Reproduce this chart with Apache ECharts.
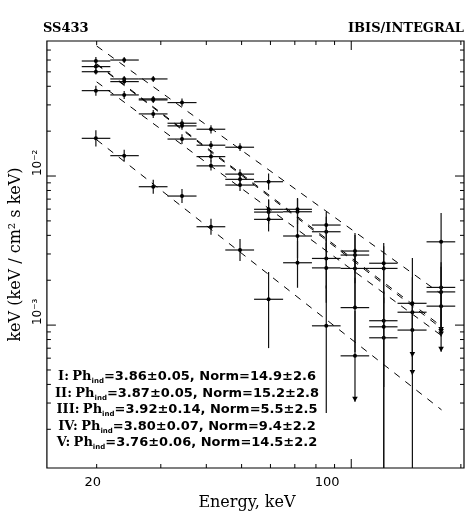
<!DOCTYPE html>
<html>
<head>
<meta charset="utf-8">
<script src="https://cdn.jsdelivr.net/npm/echarts@6/dist/echarts.min.js"></script>
<style>
  html, body { margin: 0; padding: 0; background: #fff; }
  #main { width: 473px; height: 532px; }
</style>
</head>
<body>
<div id="main"></div>
<script>
// energy bins, keV (centres and edges)
const energy = [19.9, 23.8, 28.6, 34.3, 41.2, 49.5, 59.3, 71.2, 85.4, 102.4, 122.8, 147.2, 176.5];
const binLow = [18.2, 21.8, 26.1, 31.3, 37.6, 45.1, 54.1, 65.0, 78.0, 93.5, 112, 134, 161];
const binHigh = [21.8, 26.1, 31.3, 37.6, 45.1, 54.1, 65.0, 78.0, 93.5, 112, 134, 161, 193];

// spectra: value, upper end, lower end of the error bar (0 = runs off the axis), arrow on lower end
const fluxI = [0.0542, 0.0448, 0.0329, 0.0226, 0.0161, 0.0103, 0.00598, 0.00576, 0.00423, 0.00295, 0.00240, 0.00122, 0.00179];
const fluxIHi = [0.0567, 0.0469, 0.0344, 0.0240, 0.0172, 0.0111, 0.00698, 0.00704, 0.00533, 0.00402, 0.00338, 0.00209, 0.00264];
const fluxILo = [0.0517, 0.0427, 0.0314, 0.0212, 0.0152, 0.0095, 0.00496, 0.00423, 0.0031, 0.00191, 0.0014, 0.000462, 0.00084];
const arrowI = [0, 0, 0, 0, 0, 0, 0, 0, 0, 0, 0, 1, 1];

const fluxII = [0.0501, 0.0430, 0.0324, 0.0217, 0.0135, 0.0095, 0.00573, 0.00396, 0.0028, 0.0024, 0.00107, 0.000926, 0.00167];
const fluxIIHi = [0.0525, 0.0450, 0.0339, 0.0230, 0.0146, 0.0104, 0.0069, 0.00507, 0.00382, 0.00327, 0.0017, 0.00172, 0.00246];
const fluxIILo = [0.0479, 0.0410, 0.0309, 0.0204, 0.0125, 0.00866, 0.00476, 0.00282, 0.00176, 0.0013, 0, 0, 0.00090];
const arrowII = [0, 0, 0, 0, 0, 0, 0, 0, 0, 0, 0, 0, 1];

const fluxIII = [0.0179, 0.0137, 0.00848, 0.00734, 0.00457, 0.00319, 0.00149, null, 0.000989, 0.000622, 0.000822, null, null];
const fluxIIIHi = [0.0203, 0.0150, 0.00944, 0.00818, 0.00517, 0.00378, 0.00227, null, 0.00184, 0.00125, 0.00153, null, null];
const fluxIIILo = [0.0158, 0.0125, 0.00761, 0.00659, 0.00404, 0.00269, 0.000701, null, 0.000257, 0.000306, 0, null, null];
const arrowIII = [0, 0, 0, 0, 0, 0, 0, 0, 0, 1, 0, 0, 0];

const fluxIV = [0.0374, 0.0350, 0.0261, 0.0177, 0.0117, 0.0087, 0.00512, 0.00262, 0.00242, 0.00131, 0.000974, null, 0.00134];
const fluxIVHi = [0.0404, 0.0372, 0.0277, 0.0191, 0.0127, 0.00955, 0.00617, 0.00368, 0.00357, 0.00208, 0.00167, null, 0.00183];
const fluxIVLo = [0.0346, 0.0329, 0.0245, 0.0164, 0.0109, 0.00793, 0.00425, 0.00178, 0.00141, 0.00066, 0.000385, null, 0.000662];
const arrowIV = [0, 0, 0, 0, 0, 0, 0, 0, 0, 0, 0, 0, 1];

const fluxV = [0.0591, 0.0600, 0.0448, 0.0311, 0.0206, 0.0156, 0.00916, 0.00598, 0.00469, 0.00314, 0.00260, 0.00140, 0.00362];
const fluxVHi = [0.0629, 0.0629, 0.0469, 0.0331, 0.0219, 0.0166, 0.0104, 0.00712, 0.00573, 0.00414, 0.00355, 0.00282, 0.00565];
const fluxVLo = [0.0556, 0.0573, 0.0427, 0.0293, 0.0193, 0.0147, 0.00809, 0.00476, 0.00366, 0.00223, 0.00163, 0.000612, 0.00087];
const arrowV = [0, 0, 0, 0, 0, 0, 0, 0, 0, 0, 0, 1, 1];

// power-law fits (dashed lines), end points
const fitEnergy = [20, 177];
const fitI = [0.0566, 0.00098];
const fitII = [0.0561, 0.00095];
const fitIII = [0.0175, 0.00027];
const fitIV = [0.0428, 0.00085];
const fitV = [0.0745, 0.00161];

// fit results text
const fitNames = ['I', 'II', 'III', 'IV', 'V'];
const fitIndex = ['3.86±0.05', '3.87±0.05', '3.92±0.14', '3.80±0.07', '3.76±0.06'];
const fitNorm = ['14.9±2.6', '15.2±2.8', '5.5±2.5', '9.4±2.2', '14.5±2.2'];

// ticks and labels
const xMajorTicks = [100];
const xMinorTicks = [20, 30, 40, 50, 60, 70, 80, 90, 200];
const yMajorTicks = [0.001, 0.01];
const yMinorTicks = [0.0002, 0.0003, 0.0004, 0.0005, 0.0006, 0.0007, 0.0008, 0.0009,
  0.002, 0.003, 0.004, 0.005, 0.006, 0.007, 0.008, 0.009,
  0.02, 0.03, 0.04, 0.05, 0.06, 0.07];
const xLabels = [20, 100];
const yLabels = [0.001, 0.01];

const X_MIN = 14.6, X_MAX = 204, Y_MIN = 1.1e-4, Y_MAX = 0.0805;

var chart = echarts.init(document.getElementById('main'));

function spectrum(name, flux, hi, lo, arrow) {
  const data = [];
  energy.forEach((e, i) => {
    if (flux[i] != null) data.push([e, flux[i], binLow[i], binHigh[i], hi[i], lo[i], arrow[i]]);
  });
  return {
    type: 'custom',
    name: name,
    data: data,
    clip: true,
    encode: { x: 0, y: 1 },
    renderItem: function (params, api) {
      const e = api.value(0), f = api.value(1);
      const c = api.coord([e, f]);
      const left = api.coord([api.value(2), f])[0];
      const right = api.coord([api.value(3), f])[0];
      const top = api.coord([e, api.value(4)])[1];
      const lo = api.value(5);
      const cs = params.coordSys;
      const bottom = lo > 0 ? api.coord([e, lo])[1] : cs.y + cs.height;
      const style = { stroke: '#111', lineWidth: 1.2 };
      const children = [
        { type: 'line', shape: { x1: left, y1: c[1], x2: right, y2: c[1] }, style: style },
        { type: 'line', shape: { x1: c[0], y1: top, x2: c[0], y2: bottom }, style: style },
        { type: 'circle', shape: { cx: c[0], cy: c[1], r: 2 }, style: { fill: '#000' } }
      ];
      if (api.value(6)) {
        children.push({
          type: 'polygon',
          shape: { points: [[c[0] - 2.8, bottom - 5], [c[0] + 2.8, bottom - 5], [c[0], bottom]] },
          style: { fill: '#000' }
        });
      }
      return { type: 'group', children: children };
    }
  };
}

function fitLine(name, fit) {
  return {
    type: 'line',
    name: name,
    data: [[fitEnergy[0], fit[0]], [fitEnergy[1], fit[1]]],
    showSymbol: false,
    silent: true,
    lineStyle: { color: '#000', width: 1, type: [7, 7] }
  };
}

// inward ticks on all four sides of the frame
function tickSeries(values, isX, len) {
  return {
    type: 'custom',
    silent: true,
    clip: false,
    data: values.map(v => isX ? [v, Y_MIN] : [X_MIN, v]),
    encode: { x: 0, y: 1 },
    renderItem: function (params, api) {
      const p = api.coord([api.value(0), api.value(1)]);
      const cs = params.coordSys;
      const style = { stroke: '#000', lineWidth: 1 };
      if (isX) {
        return { type: 'group', children: [
          { type: 'line', shape: { x1: p[0], y1: cs.y + cs.height, x2: p[0], y2: cs.y + cs.height - len }, style: style },
          { type: 'line', shape: { x1: p[0], y1: cs.y, x2: p[0], y2: cs.y + len }, style: style }
        ] };
      }
      return { type: 'group', children: [
        { type: 'line', shape: { x1: cs.x, y1: p[1], x2: cs.x + len, y2: p[1] }, style: style },
        { type: 'line', shape: { x1: cs.x + cs.width, y1: p[1], x2: cs.x + cs.width - len, y2: p[1] }, style: style }
      ] };
    }
  };
}

const sup = { '-2': '10⁻²', '-3': '10⁻³' };

var option = {
  animation: false,
  grid: {
    left: 43, right: 9, top: 41, bottom: 64,
    show: true, borderColor: '#000', borderWidth: 1.2
  },
  xAxis: {
    type: 'log',
    min: X_MIN,
    max: X_MAX,
    name: 'Energy, keV',
    nameLocation: 'middle',
    nameGap: 27,
    nameTextStyle: { fontFamily: 'DejaVu Serif', fontSize: 16, color: '#000', padding: [0, 17, 0, 0] },
    axisLine: { show: false },
    axisTick: { show: false },
    splitLine: { show: false },
    axisLabel: {
      customValues: xLabels,
      margin: 8,
      color: '#000',
      fontFamily: 'DejaVu Sans',
      fontSize: 13,
      // the labels sit a little left of their ticks in the original figure
      formatter: function (v) {
        return Math.round(v) === 100 ? '{a|100}' : '{b|' + Math.round(v) + '}';
      },
      rich: {
        a: { fontFamily: 'DejaVu Sans', fontSize: 13, color: '#000', padding: [0, 48, 0, 0] },
        b: { fontFamily: 'DejaVu Sans', fontSize: 13, color: '#000', padding: [0, 8, 0, 0] }
      }
    }
  },
  yAxis: {
    type: 'log',
    min: Y_MIN,
    max: Y_MAX,
    name: 'keV (keV / cm² s keV)',
    nameLocation: 'middle',
    nameRotate: 90,
    nameGap: 22,
    nameTextStyle: { fontFamily: 'DejaVu Serif', fontSize: 16, color: '#000' },
    axisLine: { show: false },
    axisTick: { show: false },
    splitLine: { show: false },
    axisLabel: {
      customValues: yLabels,
      rotate: 90,
      margin: 3,
      align: 'left',
      verticalAlign: 'bottom',
      color: '#000',
      fontFamily: 'DejaVu Sans',
      fontSize: 12,
      formatter: function (v) { return sup[String(Math.round(Math.log10(v)))]; }
    }
  },
  graphic: [
    { type: 'text', x: 43, y: 29, style: { text: 'SS433', align: 'left', verticalAlign: 'middle',
      font: 'bold 13px "DejaVu Serif"', fill: '#000' } },
    { type: 'text', x: 464, y: 29, style: { text: 'IBIS/INTEGRAL', align: 'right', verticalAlign: 'middle',
      font: 'bold 13px "DejaVu Serif"', fill: '#000' } }
  ].concat(fitNames.map((n, i) => ({
    type: 'text',
    x: 187,
    y: 377 + i * 16.4,
    style: {
      text: '{r|' + n + ':} {p|Ph}{s|ind}{n|=' + fitIndex[i] + ', Norm=' + fitNorm[i] + '}',
      align: 'center',
      verticalAlign: 'middle',
      rich: {
        r: { fontFamily: 'DejaVu Serif', fontWeight: 'bold', fontSize: 13, fill: '#000', lineHeight: 16 },
        p: { fontFamily: 'DejaVu Serif', fontWeight: 'bold', fontSize: 13, fill: '#000', lineHeight: 16 },
        s: { fontFamily: 'DejaVu Sans', fontWeight: 'bold', fontSize: 7, fill: '#000', verticalAlign: 'bottom', lineHeight: 16 },
        n: { fontFamily: 'DejaVu Sans', fontWeight: 'bold', fontSize: 13, fill: '#000', lineHeight: 16 }
      }
    }
  }))),
  series: [
    tickSeries(xMinorTicks, true, 4),
    tickSeries(xMajorTicks, true, 9),
    tickSeries(yMinorTicks, false, 4),
    tickSeries(yMajorTicks, false, 9),
    fitLine('fit V', fitV),
    fitLine('fit I', fitI),
    fitLine('fit II', fitII),
    fitLine('fit IV', fitIV),
    fitLine('fit III', fitIII),
    spectrum('I', fluxI, fluxIHi, fluxILo, arrowI),
    spectrum('II', fluxII, fluxIIHi, fluxIILo, arrowII),
    spectrum('III', fluxIII, fluxIIIHi, fluxIIILo, arrowIII),
    spectrum('IV', fluxIV, fluxIVHi, fluxIVLo, arrowIV),
    spectrum('V', fluxV, fluxVHi, fluxVLo, arrowV)
  ]
};

option && chart.setOption(option);
</script>
</body>
</html>
